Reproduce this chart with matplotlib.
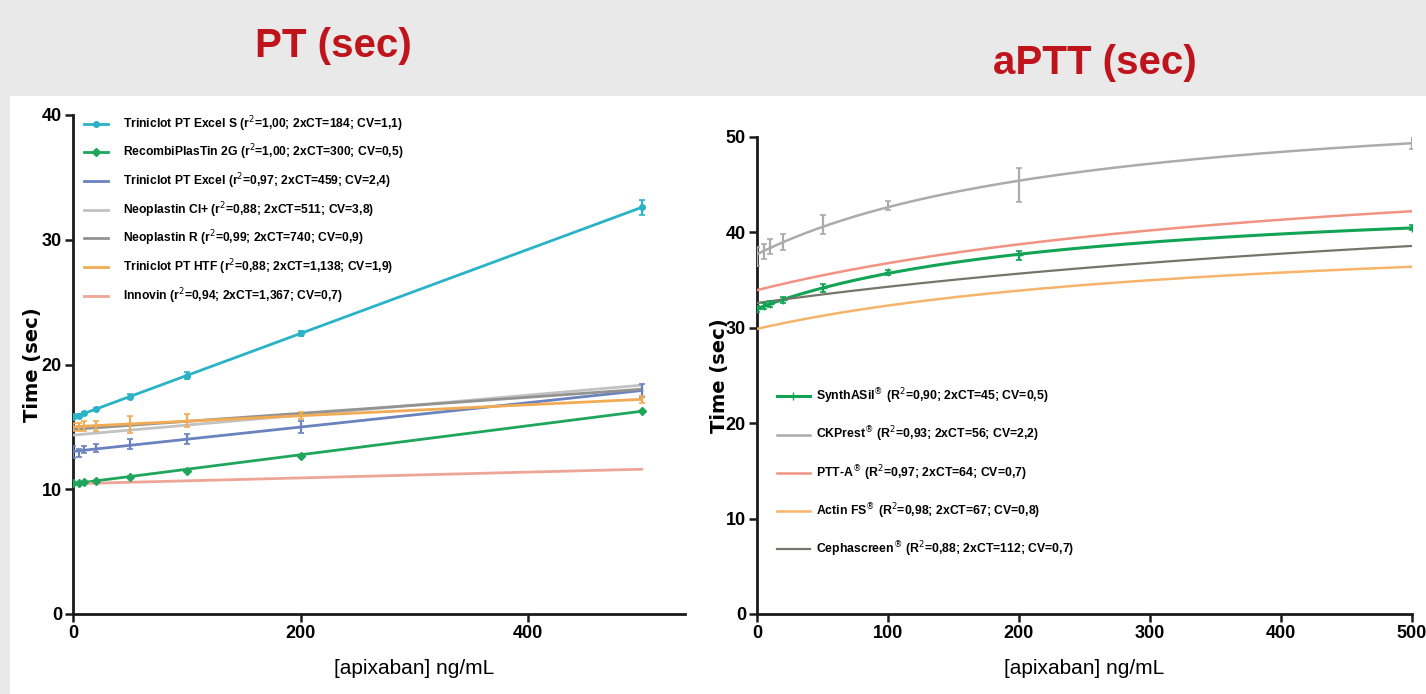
import numpy as np
import matplotlib
matplotlib.use("Agg")
import matplotlib.pyplot as plt
from matplotlib.patches import Rectangle
from matplotlib.lines import Line2D

FONT = "Liberation Sans"

# ---------------- data ----------------
conc = [0, 5, 10, 20, 50, 100, 200, 500]

pt_labels = [
    "Triniclot PT Excel S (r$^2$=1,00; 2xCT=184; CV=1,1)",
    "RecombiPlasTin 2G (r$^2$=1,00; 2xCT=300; CV=0,5)",
    "Triniclot PT Excel (r$^2$=0,97; 2xCT=459; CV=2,4)",
    "Neoplastin CI+ (r$^2$=0,88; 2xCT=511; CV=3,8)",
    "Neoplastin R (r$^2$=0,99; 2xCT=740; CV=0,9)",
    "Triniclot PT HTF (r$^2$=0,88; 2xCT=1,138; CV=1,9)",
    "Innovin (r$^2$=0,94; 2xCT=1,367; CV=0,7)",
]
pt_excel_s = [15.8, 15.9, 16.1, 16.4, 17.4, 19.1, 22.5, 32.6]
pt_recombi = [10.5, 10.5, 10.6, 10.7, 11.0, 11.5, 12.7, 16.3]
pt_excel = [13.0, 12.9, 13.2, 13.3, 13.6, 14.0, 15.0, 17.9]
pt_neo_ci = [14.2, 14.3, 14.4, 14.6, 14.8, 15.2, 16.0, 18.3]
pt_neo_r = [14.7, 14.8, 14.9, 15.0, 15.1, 15.5, 16.1, 18.0]
pt_htf = [15.0, 15.0, 15.1, 15.1, 15.2, 15.5, 15.9, 17.2]
pt_innovin = [10.4, 10.4, 10.5, 10.5, 10.6, 10.7, 10.9, 11.6]
pt_excel_s_err = [0.2, 0.1, 0.1, 0.1, 0.2, 0.3, 0.2, 0.6]
pt_excel_err = [0.5, 0.3, 0.3, 0.3, 0.4, 0.4, 0.5, 0.5]
pt_htf_err = [0.3, 0.3, 0.4, 0.4, 0.7, 0.5, 0.3, 0.3]

aptt_labels = [
    "SynthASil$^{\\circledR}$ (R$^2$=0,90; 2xCT=45; CV=0,5)",
    "CKPrest$^{\\circledR}$ (R$^2$=0,93; 2xCT=56; CV=2,2)",
    "PTT-A$^{\\circledR}$ (R$^2$=0,97; 2xCT=64; CV=0,7)",
    "Actin FS$^{\\circledR}$ (R$^2$=0,98; 2xCT=67; CV=0,8)",
    "Cephascreen$^{\\circledR}$ (R$^2$=0,88; 2xCT=112; CV=0,7)",
]
aptt_synthasil = [32.0, 32.3, 32.5, 32.9, 34.2, 35.8, 37.6, 40.5]
aptt_ckprest = [37.5, 38.0, 38.5, 39.0, 40.8, 42.8, 45.0, 49.5]
aptt_ptta = [34.0, 34.1, 34.3, 34.6, 35.4, 36.8, 38.8, 42.2]
aptt_actin = [30.0, 29.8, 30.2, 30.6, 31.3, 32.3, 33.9, 36.4]
aptt_cepha = [32.5, 32.6, 32.8, 33.1, 33.6, 34.3, 35.6, 38.6]
aptt_ckprest_err = [1.0, 0.8, 0.8, 0.8, 1.0, 0.5, 1.8, 0.8]
aptt_synthasil_err = [0.3, 0.3, 0.3, 0.3, 0.4, 0.3, 0.5, 0.3]

pt_ticks = [0, 10, 20, 30, 40]
aptt_ticks = [0, 10, 20, 30, 40, 50]
pt_xticks = [0, 200, 400]
aptt_xticks = [0, 100, 200, 300, 400, 500]

# ---------------- figure ----------------
fig = plt.figure(figsize=(14.26, 6.94), dpi=100)
fig.patch.set_facecolor("#e9e9e9")
fig.patches.append(Rectangle((10 / 1426, 0), 1, (694 - 96) / 694,
                             transform=fig.transFigure, facecolor="white",
                             edgecolor="none", zorder=-10))

axL = fig.add_axes([73 / 1426, 1 - 614 / 694, (685 - 73) / 1426, (614 - 115) / 694])
axR = fig.add_axes([757 / 1426, 1 - 614 / 694, (1412 - 757) / 1426, (614 - 137) / 694])

xs = np.array(conc, dtype=float)
xfine = np.linspace(0, 500, 200)


def fit_linear(y):
    coef = np.polyfit(xs, y, 1)
    return np.polyval(coef, xfine)


def fit_hyperbolic(y):
    # one-site saturation: y = a + b * x / (k + x), k chosen by least squares
    best = None
    for k in np.linspace(50, 3000, 300):
        t = xs / (k + xs)
        coef = np.polyfit(t, y, 1)
        sse = np.sum((np.polyval(coef, t) - y) ** 2)
        if best is None or sse < best[0]:
            best = (sse, k, coef)
    _, k, coef = best
    return np.polyval(coef, xfine / (k + xfine))


def draw(ax, y, color, marker, ms, lw, err, fitter, label):
    y = np.array(y)
    ax.plot(xfine, fitter(y), color=color, lw=lw, zorder=3)
    if err is not None:
        ax.errorbar(xs, y, yerr=err, fmt="none", ecolor=color, elinewidth=1.6,
                    capsize=2, capthick=1.2, zorder=4)
    if marker:
        ax.plot(xs, y, ls="none", marker=marker, ms=ms, color=color, zorder=5)
    return Line2D([], [], color=color, lw=lw, marker=marker if marker else None,
                  ms=ms, label=label)


hL = []
hL.append(draw(axL, pt_excel_s, "#2ab3c6", "o", 4, 2.0, pt_excel_s_err, fit_linear, pt_labels[0]))
hL.append(draw(axL, pt_recombi, "#1fa65c", "D", 4.5, 2.0, None, fit_linear, pt_labels[1]))
hL.append(draw(axL, pt_excel, "#6a83be", "", 0, 2.0, pt_excel_err, fit_linear, pt_labels[2]))
hL.append(draw(axL, pt_neo_ci, "#c2c2c2", "", 0, 2.0, None, fit_linear, pt_labels[3]))
hL.append(draw(axL, pt_neo_r, "#939393", "", 0, 2.0, None, fit_linear, pt_labels[4]))
hL.append(draw(axL, pt_htf, "#f2ab55", "", 0, 2.0, pt_htf_err, fit_linear, pt_labels[5]))
hL.append(draw(axL, pt_innovin, "#eda595", "", 0, 2.0, None, fit_linear, pt_labels[6]))

hR = []
hR.append(draw(axR, aptt_synthasil, "#12a455", "+", 6, 2.2, aptt_synthasil_err, fit_hyperbolic, aptt_labels[0]))
hR.append(draw(axR, aptt_ckprest, "#ababab", "", 0, 1.8, aptt_ckprest_err, fit_hyperbolic, aptt_labels[1]))
hR.append(draw(axR, aptt_ptta, "#f19282", "", 0, 1.8, None, fit_hyperbolic, aptt_labels[2]))
hR.append(draw(axR, aptt_actin, "#f6b46a", "", 0, 1.8, None, fit_hyperbolic, aptt_labels[3]))
hR.append(draw(axR, aptt_cepha, "#75756a", "", 0, 1.6, None, fit_hyperbolic, aptt_labels[4]))

for ax, yt, xt, xmax, ymax, ylpad in [(axL, pt_ticks, pt_xticks, 538, 40, 0),
                                       (axR, aptt_ticks, aptt_xticks, 500, 50, -2)]:
    ax.set_xlim(0, xmax)
    ax.set_ylim(0, ymax)
    ax.set_yticks(yt)
    ax.set_xticks(xt)
    for s in ["top", "right"]:
        ax.spines[s].set_visible(False)
    for s in ["left", "bottom"]:
        ax.spines[s].set_linewidth(2.0)
        ax.spines[s].set_color("#1a1a1a")
    ax.tick_params(direction="out", length=6, width=1.8, color="#1a1a1a",
                   labelsize=13, pad=2)
    for lab in ax.get_xticklabels() + ax.get_yticklabels():
        lab.set_family(FONT)
        lab.set_fontweight("bold")
    ax.set_facecolor("none")
    ax.set_ylabel("Time (sec)", fontsize=14, fontweight="bold", labelpad=ylpad)
    ax.set_xlabel("[apixaban] ng/mL", fontsize=15, family=FONT, labelpad=12)

axL.xaxis.set_label_coords(0.557, -0.09)

axL.legend(handles=hL, loc="upper left", bbox_to_anchor=(0.018, 1.002),
           frameon=False, borderpad=0, borderaxespad=0,
           handlelength=2.0, handletextpad=1.2, labelspacing=0.75,
           prop={"family": FONT, "weight": "bold", "size": 8.7})
axR.legend(handles=hR, loc="upper left", bbox_to_anchor=(0.03, 0.4765),
           frameon=False, borderpad=0, borderaxespad=0,
           handlelength=2.7, handletextpad=0.5, labelspacing=1.52,
           prop={"family": FONT, "weight": "bold", "size": 8.8})

fig.text(333 / 1426, 1 - 46 / 694, "PT (sec)", color="#c0141c", fontsize=29,
         fontweight="bold", family=FONT, ha="center", va="center")
fig.text(1095 / 1426, 1 - 63 / 694, "aPTT (sec)", color="#c0141c", fontsize=29,
         fontweight="bold", family=FONT, ha="center", va="center")

fig.savefig("out.png", dpi=100, facecolor=fig.get_facecolor())
